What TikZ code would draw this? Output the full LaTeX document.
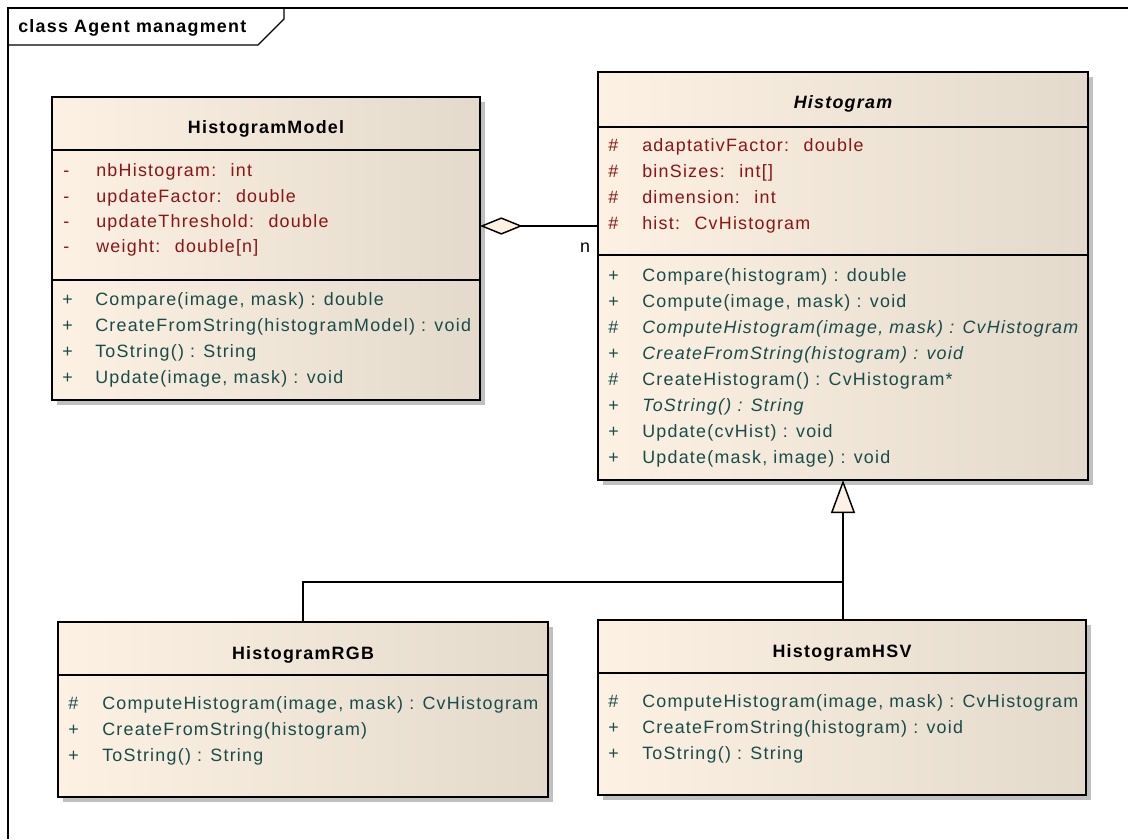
\documentclass[tikz,border=0pt]{standalone}
\usepackage{fontspec}
\setmainfont{Liberation Sans}[LetterSpace=7]
\usetikzlibrary{arrows.meta,fit}
\definecolor{attrc}{RGB}{140,20,20}
\definecolor{methc}{RGB}{25,75,75}
\definecolor{umlA}{RGB}{252,241,227}
\definecolor{umlM}{RGB}{247,236,221}
\definecolor{umlB}{RGB}{228,218,203}
\definecolor{shadowc}{RGB}{192,192,192}
\newcommand\umlfont{\fontsize{13.4}{15}\selectfont}
\newcommand\classbox[6]{%
  \fill[shadowc] (#2+5,#3+5) rectangle (#4+5,#5+5);
  \shade[left color=umlA,middle color=umlM,right color=umlB] (#2,#3) rectangle (#4,#5);
  \node[umlborder, fit={(#2,#3)(#4,#5)}] (#1) {};
  \draw[umlline] (#2,#6) -- (#4,#6);
}
\tikzset{
  umlborder/.style={draw, line width=1.3pt, inner sep=0pt, outer sep=0pt},
  umlline/.style={line width=1.3pt},
  attr/.style={anchor=base west, inner sep=0pt, text=attrc, font=\umlfont},
  meth/.style={anchor=base west, inner sep=0pt, text=methc, font=\umlfont},
  imeth/.style={meth, font=\umlfont\itshape},
  ctitle/.style={anchor=base, inner sep=0pt, font=\umlfont\bfseries},
  conn/.style={line width=1.3pt},
}
\begin{document}
\begin{tikzpicture}[x=0.75pt,y=-0.75pt]
\useasboundingbox (0,0) rectangle (1128,839);
\fill[white] (0,0) rectangle (1128,839);
% frame
\draw[line width=0.9pt] (8,839) -- (8,8) -- (1128,8);
\draw[line width=0.9pt] (8,8) -- (284,8) -- (284,19) -- (258,45) -- (8,45);
\node[anchor=base west, inner sep=0pt, font=\umlfont\bfseries] (frametitle) at (18,32) {class Agent managment};

% HistogramModel
\classbox{model}{52}{97}{480}{400}{150}
\draw[umlline] (52,280) -- (480,280);
\node[ctitle] (modelt) at (266,133) {HistogramModel};
\foreach \y/\t [count=\i] in {176/nbHistogram:~ int, 202/updateFactor:~ double, 227/updateThreshold:~ double, 252/weight:~ double[n]} {
  \node[attr] (mam\i) at (63,\y) {-};
  \node[attr] (mat\i) at (96,\y) {\t};
}
\foreach \y/\t [count=\i] in {305/{Compare(image, mask) : double}, 331/{CreateFromString(histogramModel) : void}, 357/{ToString() : String}, 383/{Update(image, mask) : void}} {
  \node[meth] (mmm\i) at (62,\y) {+};
  \node[meth] (mmt\i) at (95,\y) {\t};
}

% Histogram
\classbox{hist}{598}{72}{1088}{480}{127}
\draw[umlline] (598,255) -- (1088,255);
\node[ctitle, font=\umlfont\bfseries\itshape] (histt) at (843,108) {Histogram};
\foreach \y/\t [count=\i] in {151/adaptativFactor:~ double, 177/binSizes:~ int[], 203/dimension:~ int, 229/hist:~ CvHistogram} {
  \node[attr] (ham\i) at (608,\y) {\#};
  \node[attr] (hat\i) at (642,\y) {\t};
}
\node[meth] (hmm1) at (608,281) {+};
\node[meth] (hmt1) at (642,281) {Compare(histogram) : double};
\node[meth] (hmm2) at (608,307) {+};
\node[meth] (hmt2) at (642,307) {Compute(image, mask) : void};
\node[meth] (hmm3) at (608,333) {\#};
\node[imeth] (hmt3) at (642,333) {ComputeHistogram(image, mask) : CvHistogram};
\node[meth] (hmm4) at (608,359) {+};
\node[imeth] (hmt4) at (642,359) {CreateFromString(histogram) : void};
\node[meth] (hmm5) at (608,385) {\#};
\node[meth] (hmt5) at (642,385) {CreateHistogram() : CvHistogram*};
\node[meth] (hmm6) at (608,411) {+};
\node[imeth] (hmt6) at (642,411) {ToString() : String};
\node[meth] (hmm7) at (608,437) {+};
\node[meth] (hmt7) at (642,437) {Update(cvHist) : void};
\node[meth] (hmm8) at (608,463) {+};
\node[meth] (hmt8) at (642,463) {Update(mask, image) : void};

% HistogramRGB
\classbox{rgb}{58}{622}{548}{797}{675}
\node[ctitle] (rgbt) at (303,659) {HistogramRGB};
\foreach \y/\m/\t [count=\i] in {709/\#/{ComputeHistogram(image, mask) : CvHistogram}, 735/+/{CreateFromString(histogram)}, 761/+/{ToString() : String}} {
  \node[meth] (rmm\i) at (68,\y) {\m};
  \node[meth] (rmt\i) at (102,\y) {\t};
}

% HistogramHSV
\classbox{hsv}{598}{620}{1086}{795}{673}
\node[ctitle] (hsvt) at (842,657) {HistogramHSV};
\foreach \y/\m/\t [count=\i] in {707/\#/{ComputeHistogram(image, mask) : CvHistogram}, 733/+/{CreateFromString(histogram) : void}, 759/+/{ToString() : String}} {
  \node[meth] (smm\i) at (608,\y) {\m};
  \node[meth] (smt\i) at (642,\y) {\t};
}

% aggregation
\coordinate (aggy) at (0,226);
\draw[conn, -{Diamond[open, length=32pt, width=13pt, fill=umlA, line width=1.1pt]}] (hist.west |- aggy) -- (model.east |- aggy);
\node[anchor=base, inner sep=0pt, font=\umlfont] (mult) at (585,252) {n};

% generalization
\coordinate (junc) at (843,582);
\draw[conn, -{Triangle[open, length=24.75pt, width=18pt, fill=umlA, line width=1.1pt]}] (hsv.north -| hist.south) -- (hist.south);
\draw[conn] (rgb.north) |- (junc);
\end{tikzpicture}
\end{document}
